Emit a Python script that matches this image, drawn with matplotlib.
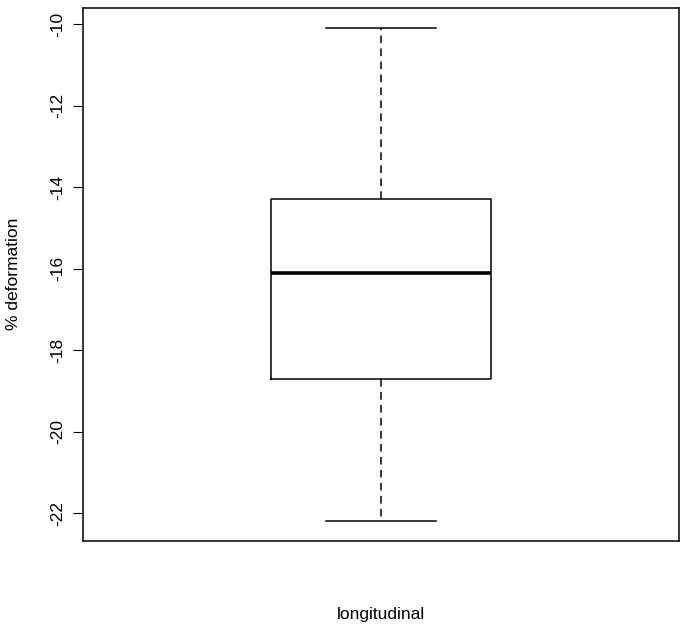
import matplotlib
matplotlib.use("Agg")
import matplotlib.pyplot as plt

plt.rcParams['font.family'] = ['Liberation Sans', 'DejaVu Sans']

category = "longitudinal"
whisker_low = -22.2
q1 = -18.7
median = -16.1
q3 = -14.3
whisker_high = -10.1
yticks = [-22, -20, -18, -16, -14, -12, -10]

fig = plt.figure(figsize=(6.85, 6.28), dpi=100)
ax = fig.add_axes([83/685, (628-541)/628, (679-83)/685, (541-8)/628])

stats = [dict(label=category, whislo=whisker_low, q1=q1, med=median,
              q3=q3, whishi=whisker_high, fliers=[])]
ax.bxp(stats, positions=[1], widths=0.4, showfliers=False,
       boxprops=dict(color='black', linewidth=1.1),
       medianprops=dict(color='black', linewidth=2.6),
       whiskerprops=dict(color='black', linewidth=1.1, linestyle=(0, (5, 3.5))),
       capprops=dict(color='black', linewidth=1.1),
       capwidths=0.2)

ax.set_xlim(0.46, 1.54)
ax.set_ylim(-22.687, -9.607)
ax.set_xticks([])
ax.set_yticks(yticks)
ax.set_yticklabels([str(t) for t in yticks], rotation=90, va='center', fontsize=12.5)
ax.tick_params(axis='y', length=7, width=0.8, pad=6)
for s in ax.spines.values():
    s.set_linewidth(1.1)

fig.text(14/685, 1 - 274/628, "% deformation", rotation=90, ha='center', va='center', fontsize=12.5)
fig.text(381/685, 1 - 615/628, category, ha='center', va='center', fontsize=12.5)

fig.savefig("out.png", dpi=100)
